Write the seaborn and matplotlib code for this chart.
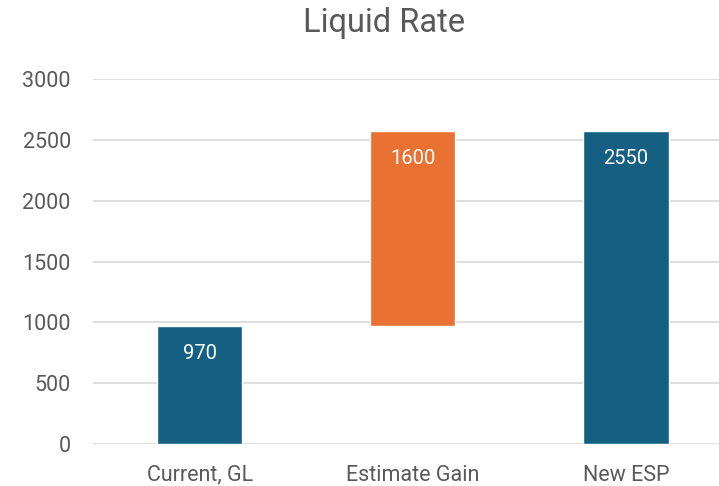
import numpy as np
import pandas as pd
import matplotlib
matplotlib.use('Agg')
import matplotlib.pyplot as plt
import seaborn as sns

sns.set_theme(style='whitegrid')
plt.rcParams['font.family'] = ['Roboto', 'DejaVu Sans']

# waterfall data
categories = ['Current, GL', 'Estimate Gain', 'New ESP']
heights = [970, 1600, 2570]
bases = [0, 970, 0]
labels = ['970', '1600', '2550']
colors = ['#156082', '#E97132', '#156082']

df = pd.DataFrame({'cat': categories, 'h': heights})

fig = plt.figure(figsize=(7.19, 4.86), dpi=100)
ax = fig.add_axes([93/719, 1-444/486, 1-93/719, (444-79)/486])

sns.barplot(data=df, x='cat', y='h', hue='cat', palette=colors, width=0.4,
            legend=False, ax=ax, saturation=1)

# shift the floating bar up to its base
for p, b, lab in zip(ax.patches, bases, labels):
    p.set_y(b)
    top = p.get_y() + p.get_height()
    ax.text(p.get_x() + p.get_width()/2, top - 225, lab, ha='center', va='center',
            color='white', fontsize=14.5)

ax.set_ylim(0, 3000)
ax.set_xlim(-0.5, 2.5 - 13.5/213)
ax.set_yticks(np.arange(0, 3001, 500))
ax.set_xlabel('')
ax.set_ylabel('')
ax.grid(axis='x', visible=False)
ax.grid(axis='y', color='#d9d9d9', linewidth=1.2)
ax.set_axisbelow(True)
for s in ax.spines.values():
    s.set_visible(False)
ax.tick_params(axis='both', colors='#595959', labelsize=15.5, length=0)
ax.tick_params(axis='y', pad=16)
ax.tick_params(axis='x', pad=15)

fig.suptitle('Liquid Rate', x=384/719, y=1-23/486, va='center', fontsize=23.5, color='#595959')

fig.savefig('out.png', dpi=100)
